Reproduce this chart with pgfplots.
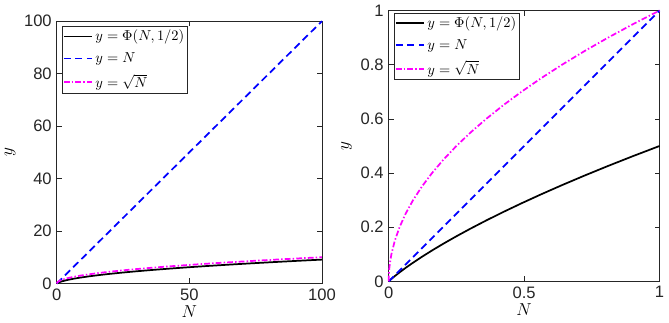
\documentclass[border=0pt]{standalone}
\usepackage{pgfplots}
\pgfplotsset{compat=1.18}
\usepackage{fontspec}
\setmainfont{Liberation Sans}
\definecolor{axgray}{RGB}{38,38,38}
\definecolor{mblue}{RGB}{0,0,255}
\definecolor{mmag}{RGB}{255,0,255}
\pgfplotsset{
  every axis/.append style={
    scale only axis,
    axis line style={axgray, line width=0.5pt},
    tick style={axgray, line width=0.5pt},
    tick align=inside,
    major tick length=3.5pt,
    ticklabel style={text=axgray, font=\fontsize{11.5}{13}\selectfont},
    /pgf/number format/assume math mode=true,
    xlabel style={font=\fontsize{12}{13}\selectfont, yshift=3pt},
    ylabel style={font=\fontsize{12}{13}\selectfont, yshift=-1pt},
    legend style={at={(0.02,0.98)}, anchor=north west, draw=axgray, line width=0.4pt,
      font=\fontsize{10}{11}\selectfont, inner sep=0.3pt, row sep=2.6pt,
      cells={anchor=west}},
    legend image code/.code={\draw[#1, line width=1.3pt] (0cm,0cm) -- (0.68cm,0cm);},
    clip=false,
  },
  phi/.style={black, line width=1.2pt},
  lin/.style={mblue, line width=1.2pt, dash pattern=on 5pt off 3pt},
  sq/.style={mmag, line width=1.2pt, dash pattern=on 4pt off 1.5pt on 1pt off 1.5pt},
}
\begin{document}
\begin{tikzpicture}
\begin{axis}[
  at={(0pt,0pt)}, anchor=origin,
  width=184pt, height=182pt,
  xmin=0, xmax=100, ymin=0, ymax=100,
  xtick={0,50,100}, ytick={0,20,40,60,80,100},
  xlabel={$N$}, ylabel={$y$},
]
\addplot[phi] coordinates {
(0,0)(0.25,0.1667)(1,0.5)(2,0.8284)(4,1.3333)(6,1.7394)(9,2.25)(12,2.6881)
(16,3.2)(20,3.6549)(25,4.1667)(30,4.6316)(36,5.1429)(42,5.6145)(49,6.125)
(56,6.6012)(64,7.1111)(72,7.5907)(81,8.1)(90,8.5822)(100,9.0909)};
\addlegendentry{$y=\Phi(N,1/2)$}
\addplot[lin] coordinates {(0,0)(100,100)};
\addlegendentry{$y=N$}
\addplot[sq] coordinates {
(0,0)(0.25,0.5)(1,1)(2,1.4142)(4,2)(6,2.4495)(9,3)(12,3.4641)(16,4)(20,4.4721)
(25,5)(30,5.4772)(36,6)(42,6.4807)(49,7)(56,7.4833)(64,8)(72,8.4853)(81,9)
(90,9.4868)(100,10)};
\addlegendentry{$y=\sqrt{N}$}
\end{axis}
\begin{axis}[
  at={(230.3pt,1.4pt)}, anchor=origin,
  width=188pt, height=188pt,
  xmin=0, xmax=1, ymin=0, ymax=1,
  xtick={0,0.5,1}, ytick={0,0.2,0.4,0.6,0.8,1},
  xlabel={$N$}, ylabel={$y$},
  legend style={at={(0.02,0.99)}},
]
\addplot[phi] coordinates {
(0,0)(0.0025,0.00238)(0.01,0.00909)(0.0225,0.01957)(0.04,0.03333)(0.0625,0.05)
(0.09,0.06923)(0.1225,0.09074)(0.16,0.11429)(0.2025,0.13966)(0.25,0.16667)
(0.3025,0.19516)(0.36,0.225)(0.4225,0.25606)(0.49,0.28824)(0.5625,0.32143)
(0.64,0.35556)(0.7225,0.39054)(0.81,0.42632)(0.9025,0.46282)(1,0.5)};
\addlegendentry{$y=\Phi(N,1/2)$}
\addplot[lin] coordinates {(0,0)(1,1)};
\addlegendentry{$y=N$}
\addplot[sq] coordinates {
(0,0)(0.0001,0.01)(0.0004,0.02)(0.0009,0.03)(0.0016,0.04)(0.0025,0.05)
(0.005,0.0707)(0.01,0.1)(0.0225,0.15)(0.04,0.2)(0.0625,0.25)(0.09,0.3)
(0.1225,0.35)(0.16,0.4)(0.2025,0.45)(0.25,0.5)(0.3025,0.55)(0.36,0.6)
(0.4225,0.65)(0.49,0.7)(0.5625,0.75)(0.64,0.8)(0.7225,0.85)(0.81,0.9)
(0.9025,0.95)(1,1)};
\addlegendentry{$y=\sqrt{N}$}
\end{axis}
\end{tikzpicture}
\end{document}
